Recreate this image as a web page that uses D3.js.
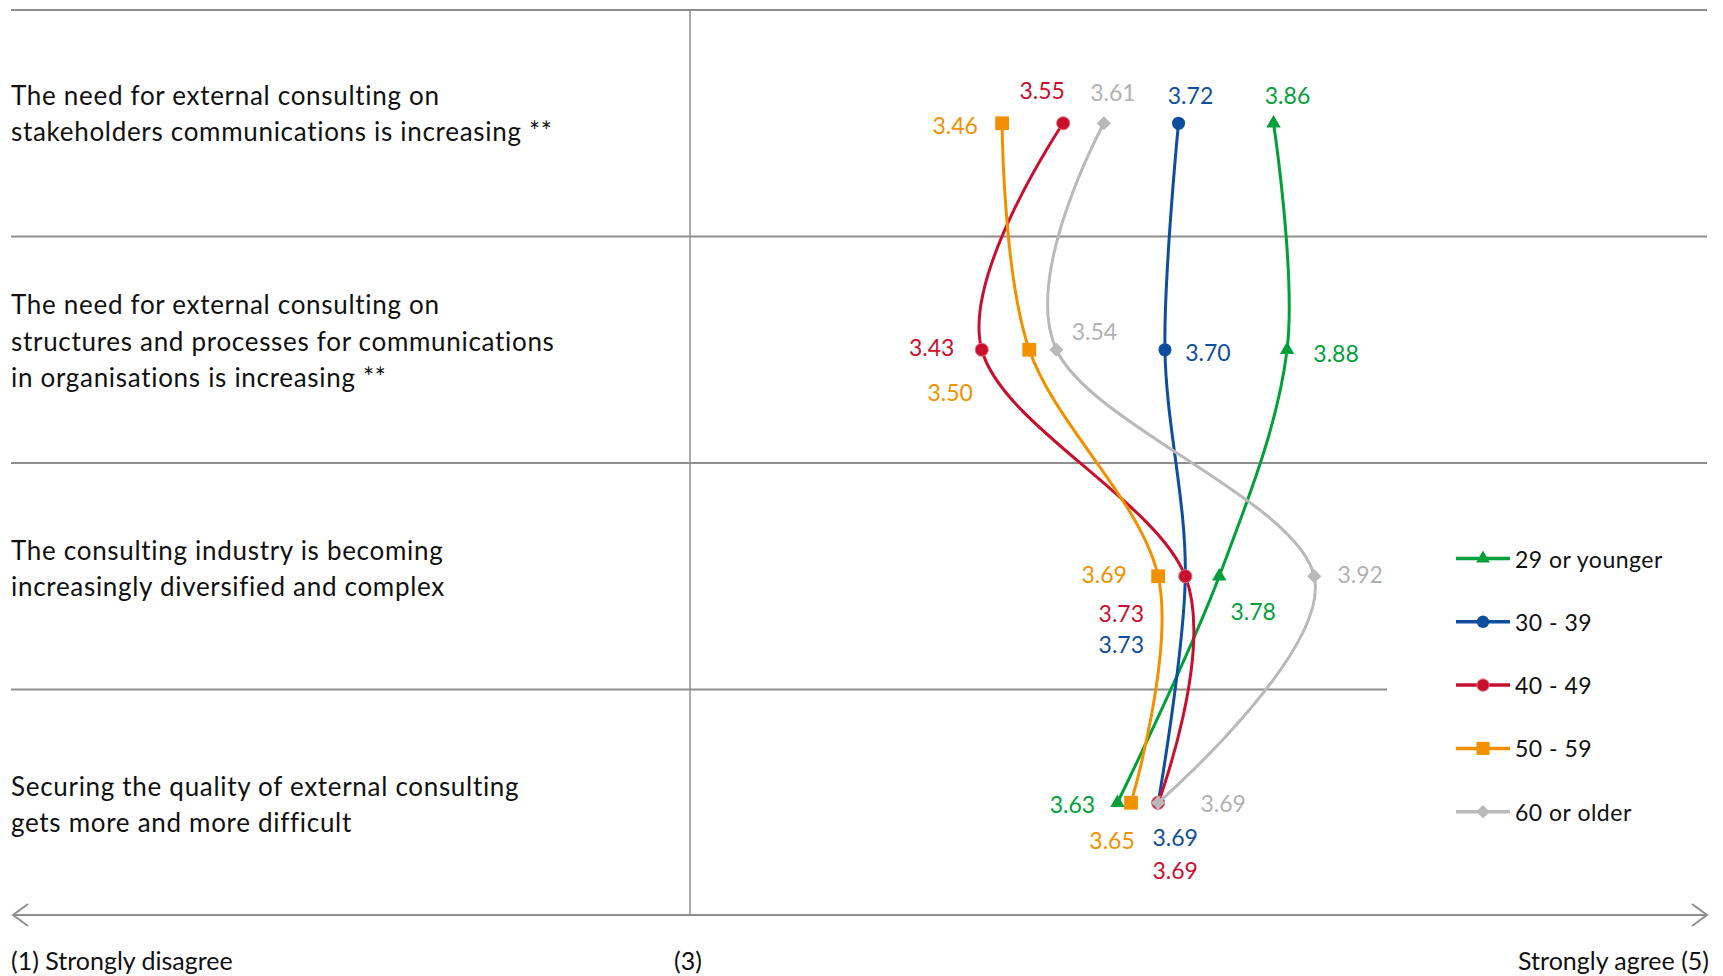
<!DOCTYPE html>
<html>
<head>
<meta charset="utf-8">
<script src="https://cdn.jsdelivr.net/npm/d3@7"></script>
<style>
  body { margin: 0; background: #fff; }
  text { font-family: Lato, "Open Sans", sans-serif; }
</style>
</head>
<body>
<svg id="chart"></svg>
<script>
// statements (one row each), top to bottom
const statements = [
  ["The need for external consulting on", "stakeholders communications is increasing **"],
  ["The need for external consulting on", "structures and processes for communications", "in organisations is increasing **"],
  ["The consulting industry is becoming", "increasingly diversified and complex"],
  ["Securing the quality of external consulting", "gets more and more difficult"]
];

const groups = ["29 or younger", "30 - 39", "40 - 49", "50 - 59", "60 or older"];

// mean agreement per statement
const age29 = [3.86, 3.88, 3.78, 3.63];
const age30 = [3.72, 3.70, 3.73, 3.69];
const age40 = [3.55, 3.43, 3.73, 3.69];
const age50 = [3.46, 3.50, 3.69, 3.65];
const age60 = [3.61, 3.54, 3.92, 3.69];

const scaleLabels = ["(1) Strongly disagree", "(3)", "Strongly agree (5)"];

const WIDTH = 1723;
const HEIGHT = 976;

const series = [
  { name: groups[0], values: age29, color: "#00a13a", labelColor: "#00a13a", symbol: "triangle" },
  { name: groups[1], values: age30, color: "#0d4f9e", labelColor: "#0d4f9e", symbol: "circle" },
  { name: groups[2], values: age40, color: "#c8102e", labelColor: "#c8102e", symbol: "circle" },
  { name: groups[3], values: age50, color: "#f29100", labelColor: "#f29100", symbol: "square" },
  { name: groups[4], values: age60, color: "#b9b9b9", labelColor: "#b2b2b2", symbol: "diamond" }
];

// hand placed value labels, offset from their point (dx, dy)
const labelOffsets = [
  [[14, -28], [49, 3], [34, 35], [-45, 1]],
  [[12, -28], [43, 2], [-64, 68], [17, 34]],
  [[-21, -33], [-50, -3], [-64, 37], [17, 67]],
  [[-47, 2], [-79, 42], [-54, -2], [-19, 37]],
  [[9, -31], [38, -19], [46, -2], [65, 0]]
];

// statement text blocks sit a bit above the row centre
const textShift = [-10.5, -9, -8.5, 1];

let svg = d3.select("#chart")
  .attr("width", WIDTH)
  .attr("height", HEIGHT);

let x = d3.scaleLinear()
  .domain([3, 4])
  .range([690, 1368.5]);

let y = d3.scaleBand()
  .domain(d3.range(statements.length))
  .range([10, 916]);

const gridColor = "#8e8e8e";

// row separators
svg.append("g")
  .selectAll("line")
  .data(d3.range(statements.length))
  .enter().append("line")
    .attr("x1", 11)
    .attr("x2", (d) => d === 3 ? 1387 : 1707)
    .attr("y1", (d) => y(d))
    .attr("y2", (d) => y(d))
    .style("stroke", gridColor)
    .style("stroke-width", 2);

// neutral line
svg.append("line")
  .attr("x1", x(3)).attr("x2", x(3))
  .attr("y1", 10).attr("y2", 915)
  .style("stroke", gridColor)
  .style("stroke-width", 1.5);

// double arrow at the bottom
let axisY = 915;
let arrow = svg.append("g")
  .style("stroke", gridColor)
  .style("stroke-width", 2)
  .style("fill", "none");

arrow.append("line")
  .attr("x1", 13).attr("x2", 1707)
  .attr("y1", axisY).attr("y2", axisY);

arrow.append("path")
  .attr("d", "M28," + (axisY - 11) + "L13," + axisY + "L28," + (axisY + 11));

arrow.append("path")
  .attr("d", "M1692," + (axisY - 11) + "L1707," + axisY + "L1692," + (axisY + 11));

let scaleText = svg.append("g")
  .style("font-size", "25px")
  .style("fill", "#111");

scaleText.append("text")
  .attr("x", 11).attr("y", 960)
  .attr("dominant-baseline", "central")
  .text(scaleLabels[0]);

scaleText.append("text")
  .attr("x", x(3) - 2).attr("y", 960)
  .attr("text-anchor", "middle")
  .attr("dominant-baseline", "central")
  .text(scaleLabels[1]);

scaleText.append("text")
  .attr("x", 1709).attr("y", 960)
  .attr("text-anchor", "end")
  .attr("dominant-baseline", "central")
  .text(scaleLabels[2]);

// statement texts
let rowCenter = (i) => y(i) + y.bandwidth() / 2;

svg.append("g")
  .selectAll("text")
  .data(statements)
  .enter().append("text")
    .style("font-size", "26px")
    .style("letter-spacing", "0.7px")
    .style("fill", "#111")
    .each(function(lines, i) {
      let top = rowCenter(i) + textShift[i] - (lines.length - 1) * 36.5 / 2;
      d3.select(this).selectAll("tspan")
        .data(lines)
        .enter().append("tspan")
          .attr("x", 11)
          .attr("y", (d, j) => top + j * 36.5)
          .attr("dominant-baseline", "central")
          .text((d) => d);
    });

// markers
function markerPath(type, scale) {
  let s = scale || 1;
  if (type === "triangle") return d3.symbol(d3.symbolTriangle, 90 * s)();
  if (type === "circle") return d3.symbol(d3.symbolCircle, 135 * s)();
  if (type === "square") return d3.symbol(d3.symbolSquare, 190 * s)();
  return d3.symbol(d3.symbolSquare, 100 * s)();
}

function markerStroke(d) {
  return d.name === groups[2] ? "#e0707c" : "none";
}

let line = d3.line()
  .x((d) => d[0])
  .y((d) => d[1])
  .curve(d3.curveCardinal.tension(0));

let seriesG = svg.append("g")
  .selectAll("g")
  .data(series)
  .enter().append("g")
    .attr("class", "series");

seriesG.append("path")
  .attr("d", (d) => line(d.values.map((v, i) => [x(v), rowCenter(i)])))
  .style("fill", "none")
  .style("stroke", (d) => d.color)
  .style("stroke-width", 3);

seriesG.each(function(s) {
  d3.select(this).selectAll(".marker")
    .data(s.values)
    .enter().append("path")
      .attr("class", "marker")
      .attr("d", markerPath(s.symbol))
      .attr("transform", (v, i) => "translate(" + x(v) + "," + rowCenter(i) + ")" +
        (s.symbol === "diamond" ? "rotate(45)" : ""))
      .style("fill", s.color)
      .style("stroke", markerStroke(s))
      .style("stroke-width", 1);
});

// value labels drawn on top of every line
svg.append("g")
  .selectAll("g")
  .data(series)
  .enter().append("g")
  .each(function(s, si) {
    d3.select(this).selectAll("text")
      .data(s.values)
      .enter().append("text")
        .attr("x", (v, i) => x(v) + labelOffsets[si][i][0])
        .attr("y", (v, i) => rowCenter(i) + labelOffsets[si][i][1])
        .attr("text-anchor", "middle")
        .attr("dominant-baseline", "central")
        .style("font-size", "23px")
        .style("fill", s.labelColor)
        .text((v) => v.toFixed(2));
  });

// legend
let legend = svg.append("g")
  .selectAll("g")
  .data(series)
  .enter().append("g")
    .attr("transform", (d, i) => "translate(1456," + (558.5 + i * 63.3) + ")");

legend.append("line")
  .attr("x1", 0).attr("x2", 54)
  .style("stroke", (d) => d.color)
  .style("stroke-width", 3.5);

legend.append("path")
  .attr("d", (d) => markerPath(d.symbol, 0.9))
  .attr("transform", (d) => "translate(27,0)" + (d.symbol === "diamond" ? "rotate(45)" : ""))
  .style("fill", (d) => d.color)
  .style("stroke", markerStroke)
  .style("stroke-width", 1);

legend.append("text")
  .attr("x", 59)
  .attr("dominant-baseline", "central")
  .style("font-size", "23px")
  .style("letter-spacing", "0.5px")
  .style("fill", "#111")
  .text((d) => d.name);
</script>
</body>
</html>
